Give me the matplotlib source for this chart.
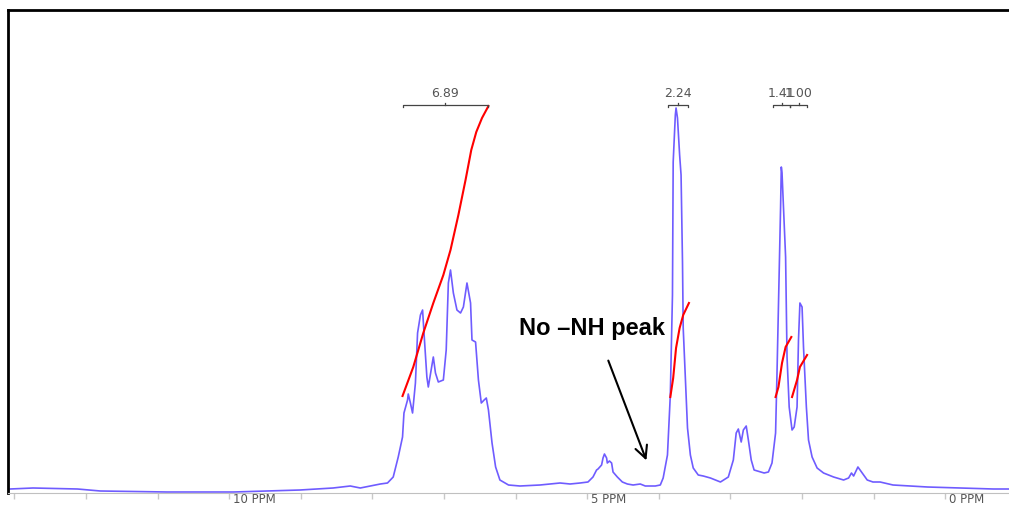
import matplotlib.pyplot as plt
from matplotlib.transforms import ScaledTranslation

# spectrum trace (chemical shift in ppm, intensity in a.u.)
ppm = [13.06, 12.74, 12.12, 11.80, 10.87, 9.94, 9.01, 8.55, 8.31, 8.17,
       7.89, 7.79, 7.71, 7.64, 7.58, 7.56, 7.51, 7.50, 7.47, 7.44,
       7.40, 7.37, 7.33, 7.30, 7.28, 7.24, 7.22, 7.18, 7.15, 7.12,
       7.08, 7.01, 6.97, 6.94, 6.91, 6.87, 6.82, 6.77, 6.73, 6.70,
       6.68, 6.63, 6.61, 6.56, 6.52, 6.48, 6.44, 6.41, 6.38, 6.33,
       6.28, 6.22, 6.10, 5.94, 5.66, 5.38, 5.24, 5.10, 4.99, 4.92,
       4.87, 4.85, 4.80, 4.78, 4.76, 4.73, 4.72, 4.69, 4.66, 4.64,
       4.58, 4.51, 4.44, 4.36, 4.26, 4.19, 4.05, 3.98, 3.94, 3.88,
       3.84, 3.81, 3.80, 3.77, 3.76, 3.74, 3.71, 3.69, 3.67, 3.66,
       3.63, 3.60, 3.56, 3.52, 3.45, 3.38, 3.28, 3.14, 3.03, 2.96,
       2.92, 2.89, 2.85, 2.82, 2.78, 2.75, 2.71, 2.67, 2.58, 2.53,
       2.47, 2.42, 2.37, 2.35, 2.32, 2.30, 2.29, 2.28, 2.26, 2.23,
       2.22, 2.21, 2.18, 2.14, 2.11, 2.07, 2.05, 2.03, 2.00, 1.98,
       1.94, 1.91, 1.86, 1.79, 1.70, 1.56, 1.42, 1.35, 1.31, 1.28,
       1.24, 1.22, 1.16, 1.09, 1.01, 0.91, 0.73, 0.25, -0.21, -0.67,
       -0.89]
intensity = [4, 5, 4, 2, 1, 1, 3, 5, 7, 5,
             9, 10, 16, 36, 56, 80, 93, 99, 90, 80,
             110, 160, 178, 183, 160, 116, 106, 123, 136, 120,
             111, 113, 143, 210, 223, 200, 183, 180, 186, 200,
             210, 190, 153, 151, 113, 90, 93, 95, 83, 50,
             26, 13, 8, 7, 8, 10, 9, 10, 11, 16,
             23, 24, 28, 35, 39, 35, 30, 32, 30, 21,
             16, 11, 9, 8, 9, 7, 7, 8, 15, 38,
             98, 198, 331, 378, 385, 375, 338, 318, 231, 165,
             115, 65, 38, 25, 18, 17, 15, 11, 16, 33,
             60, 64, 51, 63, 67, 53, 33, 23, 21, 20,
             21, 30, 60, 120, 220, 286, 326, 320, 286, 236,
             186, 136, 86, 63, 66, 86, 153, 190, 186, 146,
             86, 53, 36, 25, 20, 16, 13, 15, 20, 17,
             23, 26, 20, 13, 11, 11, 8, 6, 5, 4,
             4]

# integral curves
int1_ppm = [7.58, 7.43, 7.29, 7.15, 7.01, 6.91, 6.80, 6.70, 6.62, 6.55, 6.47, 6.38]
int1_val = [97, 126, 160, 190, 218, 243, 278, 313, 343, 361, 375, 387]
int2_ppm = [3.84, 3.80, 3.76, 3.71, 3.66, 3.58]
int2_val = [96, 115, 145, 165, 178, 190]
int3_ppm = [2.37, 2.33, 2.28, 2.23, 2.15]
int3_val = [96, 106, 130, 146, 156]
int4_ppm = [2.14, 2.07, 2.03, 1.93]
int4_val = [96, 113, 126, 138]

# integration ranges and values
ranges = [(7.58, 6.38), (3.87, 3.59), (2.40, 2.165), (2.165, 1.93)]
areas = ["6.89", "2.24", "1.41", "1.00"]

fig = plt.figure(figsize=(10.09, 5.05), dpi=100)
ax = fig.add_axes([8/1009, 12/505, 1001/1009, 483/505])

ax.plot(ppm, intensity, color='#6f5cff', linewidth=1.2)
for xs, ys in [(int1_ppm, int1_val), (int2_ppm, int2_val),
               (int3_ppm, int3_val), (int4_ppm, int4_val)]:
    ax.plot(xs, ys, color='red', linewidth=1.5)

# integral brackets
for (a, b), lab in zip(ranges, areas):
    yb = 388
    ax.plot([a, a, b, b], [yb - 2, yb, yb, yb - 2], color='#444444', lw=0.9)
    m = (a + b) / 2
    ax.plot([m, m], [yb, yb + 2], color='#444444', lw=0.9)
    ax.text(m, yb + 5, lab, ha='center', va='bottom', fontsize=9,
            color='#555555')

ax.annotate("", xy=(4.16, 30), xytext=(4.72, 135),
            arrowprops=dict(arrowstyle='->', color='black', lw=1.5,
                            mutation_scale=22))
ax.text(4.93, 165, "No \u2013NH peak", ha='center', va='center',
        fontsize=17, fontweight='bold', family=['Liberation Sans'])

ax.set_xlim(13.09, -0.89)
ax.set_ylim(0, 483)
ax.set_yticks([])
ticks = list(range(0, 14))
ax.set_xticks(ticks)
ax.set_xticklabels([f"{t} PPM" if t % 5 == 0 else "" for t in ticks])
ax.tick_params(axis='x', direction='out', length=4, width=1,
               color='#c8c8c8', labelcolor='#555555', labelsize=8.5, pad=0)
offset = ScaledTranslation(3/72, 4/72, fig.dpi_scale_trans)
for lbl in ax.get_xticklabels():
    lbl.set_horizontalalignment('left')
    lbl.set_transform(lbl.get_transform() + offset)

ax.spines['right'].set_visible(False)
ax.spines['bottom'].set_color('#c0c0c0')
ax.spines['left'].set_linewidth(2)
ax.spines['top'].set_linewidth(2)

fig.savefig('out.png', dpi=100)
